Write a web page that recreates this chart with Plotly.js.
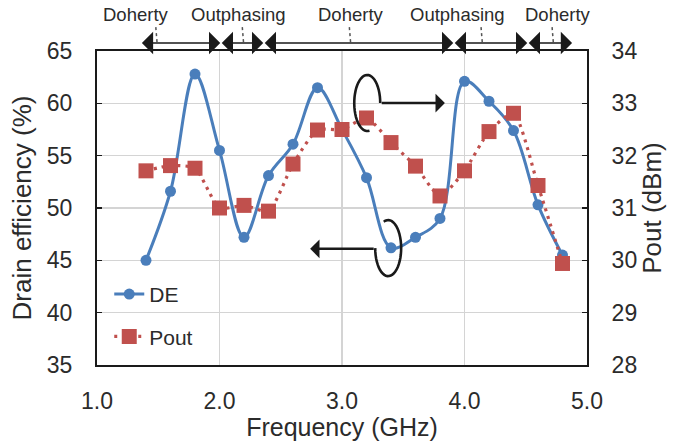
<!DOCTYPE html>
<html>
<head>
<meta charset="utf-8">
<script src="https://cdn.plot.ly/plotly-3.0.1.min.js"></script>
<style>
  html, body { margin: 0; padding: 0; background: #ffffff; }
  #chart { width: 694px; height: 441px; }
</style>
</head>
<body>
<div id="chart"></div>
<script>
// ---- data ----
var freqGHz = [1.4, 1.6, 1.8, 2.0, 2.2, 2.4, 2.6, 2.8, 3.0, 3.2, 3.4, 3.6, 3.8, 4.0, 4.2, 4.4, 4.6, 4.8];
var drainEff = [45.0, 51.6, 62.8, 55.5, 47.2, 53.1, 56.1, 61.5, 57.5, 52.9, 46.2, 47.2, 49.0, 62.1, 60.2, 57.4, 50.3, 45.5];
var poutDbm = [31.71, 31.81, 31.76, 31.0, 31.05, 30.94, 31.84, 32.49, 32.50, 32.72, 32.25, 31.80, 31.23, 31.71, 32.46, 32.81, 31.43, 29.94];

// mode regions across the top (frequency boundaries) and their labels
var modeBounds = [1.354, 2.006, 2.357, 3.908, 4.512, 4.878];
var modeLabels = ["Doherty", "Outphasing", "Doherty", "Outphasing", "Doherty"];
var modeLabelX = [1.32, 2.153, 3.076, 3.941, 4.766];
var modePointerX = [1.49, 2.196, 3.07, 4.145, 4.725];

var xTicks = [1, 2, 3, 4, 5];
var xTickText = ["1.0", "2.0", "3.0", "4.0", "5.0"];

// ---- styles ----
var FONT = "Liberation Sans, Arial, sans-serif";
var TXT = "#2b2b2b";
var BLUE = "#4a7ebb";
var RED = "#c0504d";

var traces = [
  {
    x: freqGHz, y: drainEff, name: "DE", type: "scatter", mode: "lines+markers",
    line: { color: BLUE, width: 3, shape: "spline", smoothing: 1 },
    marker: { color: BLUE, size: 11, symbol: "circle" },
    legendgroup: "a", yaxis: "y"
  },
  {
    x: freqGHz, y: poutDbm, name: "Pout", type: "scatter", mode: "lines+markers",
    line: { color: RED, width: 3.2, dash: "3px,5px", shape: "spline", smoothing: 0.6 },
    marker: { color: RED, size: 15, symbol: "square" },
    legendgroup: "b", yaxis: "y2"
  }
];

// decorative loops around the highlighted points
function loopPath(cx, cy, rx, ry, a0, a1) {
  var p = "";
  var n = 40;
  for (var i = 0; i <= n; i++) {
    var a = (a0 + (a1 - a0) * i / n) * Math.PI / 180;
    var px = cx + rx * Math.cos(a), py = cy + ry * Math.sin(a);
    p += (i === 0 ? "M" : "L") + px.toFixed(4) + "," + py.toFixed(4);
  }
  return p;
}

var shapes = [
  { type: "path", xref: "x", yref: "y", path: loopPath(3.206, 60.03, 0.106, 2.68, 0, 280),
    line: { color: "#1a1a1a", width: 2.6 } },
  { type: "path", xref: "x", yref: "y", path: loopPath(3.377, 46.17, 0.106, 2.68, 180, 470),
    line: { color: "#1a1a1a", width: 2.6 } }
];

var annotations = [];
// arrows from loops to axes
annotations.push({ xref: "x", yref: "y", axref: "x", ayref: "y",
  x: 3.84, y: 60.03, ax: 3.312, ay: 60.03, text: "", showarrow: true,
  arrowhead: 1, arrowsize: 1.25, arrowwidth: 2.5, arrowcolor: "#1a1a1a" });
annotations.push({ xref: "x", yref: "y", axref: "x", ayref: "y",
  x: 2.74, y: 46.1, ax: 3.271, ay: 46.1, text: "", showarrow: true,
  arrowhead: 1, arrowsize: 1.25, arrowwidth: 2.5, arrowcolor: "#1a1a1a" });

// mode arrows and labels above the plot
var PX_PER_GHZ = 490 / 4;
for (var i = 0; i < modeLabels.length; i++) {
  annotations.push({ xref: "x", yref: "paper", axref: "pixel", ayref: "pixel",
    x: modeBounds[i + 1], y: 1.0255, ax: -(modeBounds[i + 1] - modeBounds[i]) * PX_PER_GHZ, ay: 0,
    text: "", showarrow: true, arrowhead: 1, startarrowhead: 1, arrowside: "end+start",
    arrowsize: 2.5, startarrowsize: 2.5, arrowwidth: 1.5, arrowcolor: "#1a1a1a" });
  annotations.push({ xref: "x", yref: "paper", x: modeLabelX[i], y: 1.115,
    text: modeLabels[i], showarrow: false, xanchor: "center", yanchor: "middle",
    font: { family: FONT, size: 18.5, color: TXT } });
  shapes.push({ type: "line", xref: "x", yref: "paper",
    x0: modePointerX[i] - 0.01, x1: modePointerX[i], y0: 1.076, y1: 1.028,
    line: { color: "#555555", width: 1.5, dash: "dot" } });
}

var layout = {
  width: 694, height: 441,
  margin: { l: 97, r: 107, t: 51, b: 76 },
  paper_bgcolor: "#ffffff", plot_bgcolor: "#ffffff",
  font: { family: FONT, color: TXT },
  showlegend: true,
  legend: { x: 0.025, y: 0.29, xanchor: "left", yanchor: "top",
    bgcolor: "rgba(0,0,0,0)", font: { family: FONT, size: 21, color: TXT },
    traceorder: "grouped", tracegroupgap: 12 },
  xaxis: {
    range: [1, 5], tickvals: xTicks, ticktext: xTickText,
    showgrid: true, gridcolor: "#d4d4d4", gridwidth: 1.5,
    showline: true, linecolor: "#1a1a1a", linewidth: 2, mirror: true,
    ticks: "", zeroline: false, ticklabelstandoff: 14,
    tickfont: { family: FONT, size: 23, color: TXT },
    title: { text: "Frequency (GHz)", font: { family: FONT, size: 25, color: TXT }, standoff: 2 }
  },
  yaxis: {
    range: [35, 65], dtick: 5, tick0: 35,
    showgrid: true, gridcolor: "#d4d4d4", gridwidth: 1.5,
    showline: true, linecolor: "#1a1a1a", linewidth: 2,
    ticks: "inside", ticklen: 5, tickwidth: 1.5, tickcolor: "#1a1a1a",
    zeroline: false, ticklabelstandoff: 18,
    tickfont: { family: FONT, size: 23, color: TXT },
    title: { text: "Drain efficiency (%)", font: { family: FONT, size: 26, color: TXT }, standoff: 8 }
  },
  yaxis2: {
    range: [28, 34], dtick: 1, tick0: 28, overlaying: "y", side: "right",
    showgrid: false, showline: true, linecolor: "#1a1a1a", linewidth: 2,
    ticks: "inside", ticklen: 5, tickwidth: 1.5, tickcolor: "#1a1a1a",
    zeroline: false, ticklabelstandoff: 18,
    tickfont: { family: FONT, size: 23, color: TXT },
    title: { text: "Pout (dBm)", font: { family: FONT, size: 26, color: TXT }, standoff: 6 }
  },
  shapes: shapes,
  annotations: annotations
};

Plotly.newPlot("chart", traces, layout, { displayModeBar: false, staticPlot: true });
</script>
</body>
</html>
